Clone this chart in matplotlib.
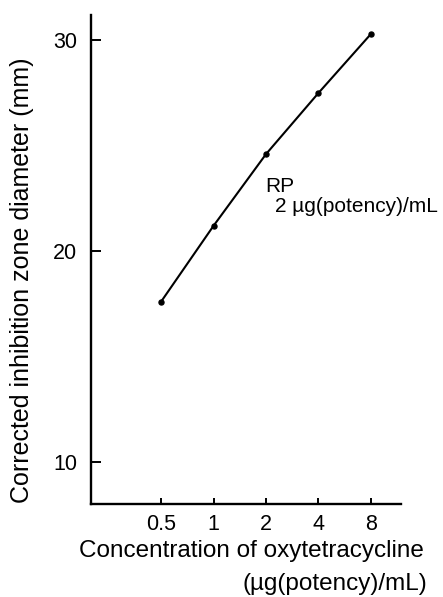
"""
Dose-response line: corrected inhibition zone diameter vs oxytetracycline
"""

import matplotlib.pyplot as plt
from matplotlib.ticker import FixedLocator, FixedFormatter, NullLocator

plt.rcParams['font.family'] = ['Liberation Sans', 'DejaVu Sans']

# concentration (ug(potency)/mL) and corrected zone diameter (mm)
conc = [0.5, 1, 2, 4, 8]
diam = [17.6, 21.2, 24.6, 27.5, 30.3]

xticks = [0.5, 1, 2, 4, 8]
xtick_labels = ['0.5', '1', '2', '4', '8']
yticks = [10, 20, 30]
ytick_labels = ['10', '20', '30']


def main():
    fig = plt.figure(figsize=(4.43, 5.97), dpi=100)
    ax = fig.add_axes([0.2054, 0.1558, 0.6998, 0.8191])

    ax.plot(conc, diam, c='k', lw=1.5, marker='o', ms=3.6, zorder=5)

    ax.set_xscale('log', base=2)
    ax.set_xlim(0.198, 11.9)
    ax.set_ylim(8.0, 31.2)

    ax.xaxis.set_major_locator(FixedLocator(xticks))
    ax.xaxis.set_major_formatter(FixedFormatter(xtick_labels))
    ax.xaxis.set_minor_locator(NullLocator())
    ax.yaxis.set_major_locator(FixedLocator(yticks))
    ax.yaxis.set_major_formatter(FixedFormatter(ytick_labels))

    ax.tick_params(axis='x', direction='in', length=4, width=1.4,
                   labelsize=15.5, pad=7)
    ax.tick_params(axis='y', direction='in', length=7, width=1.4,
                   labelsize=15.5, pad=10)

    for side in ('top', 'right'):
        ax.spines[side].set_visible(False)
    for side in ('left', 'bottom'):
        ax.spines[side].set_linewidth(1.7)

    ax.text(1.97, 22.8, 'RP', fontsize=15, va='baseline')
    ax.text(2.25, 21.85, '2 µg(potency)/mL', fontsize=15, va='baseline')

    fig.text(0.05, 0.531, 'Corrected inhibition zone diameter (mm)',
             fontsize=18, rotation=90, ha='center', va='center')
    fig.text(0.568, 0.077, 'Concentration of oxytetracycline', fontsize=17.5,
             ha='center', va='center')
    fig.text(0.964, 0.021, '(µg(potency)/mL)', fontsize=17.5,
             ha='right', va='center')

    fig.savefig('out.png', dpi=100)


if __name__ == '__main__':
    main()
